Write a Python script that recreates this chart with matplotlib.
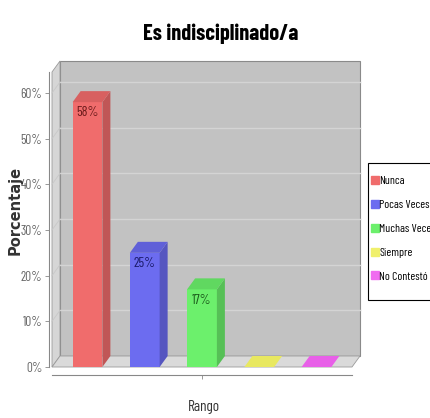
import matplotlib
matplotlib.use('Agg')
import matplotlib.pyplot as plt
from matplotlib.patches import Polygon, Rectangle
from matplotlib.lines import Line2D

# Data
categories = ['Nunca', 'Pocas Veces', 'Muchas Veces', 'Siempre', 'No Contestó']
values = [58, 25, 17, 0, 0]
bar_labels = ['58%', '25%', '17%', '', '']
yticks = [0, 10, 20, 30, 40, 50, 60]

front_colors = ['#f06c6c', '#6c6cf0', '#6cf06c', '#f0f06c', '#f06cf0']
side_colors = ['#c05656', '#5656c0', '#56c056', '#c0c056', '#c056c0']
top_colors = ['#d86060', '#6060d8', '#60d860', '#e8e860', '#e860e8']
label_colors = ['#6a1a1a', '#1a1a6a', '#1a5a1a', '#000000', '#000000']

NARROW = ['Barlow Condensed', 'DejaVu Sans']

fig = plt.figure(figsize=(4.31, 4.18), dpi=100)
W, H = 431, 418
# front face of the plot box: x 52..352, y 72..367 (pixels from top)
ax = fig.add_axes([52 / W, (H - 367) / H, 300 / W, 295 / H])
xmin, xmax = -0.62, len(categories) - 1 + 0.62
ymax = 64.6
ax.set_xlim(xmin, xmax)
ax.set_ylim(0, ymax)
ax.patch.set_visible(False)

# depth of the 3D effect converted to data units
p0 = ax.transData.transform((0, 0))
p1 = ax.transData.transform((1, 1))
dx = 8 / (p1[0] - p0[0])
dy = 11 / (p1[1] - p0[1])

# back wall, left wall, floor
ax.add_patch(Polygon([(xmin + dx, dy), (xmax + dx, dy), (xmax + dx, ymax + dy),
                      (xmin + dx, ymax + dy)], closed=True, fc='#c2c2c2',
                     ec='#8a8a8a', lw=0.8, clip_on=False, zorder=0))
ax.add_patch(Polygon([(xmin, 0), (xmin + dx, dy), (xmin + dx, ymax + dy), (xmin, ymax)],
                     closed=True, fc='#d6d6d6', ec='#9a9a9a', lw=0.6, clip_on=False, zorder=0))
ax.add_patch(Polygon([(xmin, 0), (xmax, 0), (xmax + dx, dy), (xmin + dx, dy)],
                     closed=True, fc='#dadada', ec='#9a9a9a', lw=0.6, clip_on=False, zorder=0))
for t in yticks[1:]:
    ax.plot([xmin + dx, xmax + dx], [t + dy, t + dy], color='#d4d4d4', lw=1.0,
            clip_on=False, zorder=0.5)
    ax.plot([xmin, xmin + dx], [t, t + dy], color='#c8c8c8', lw=0.6,
            clip_on=False, zorder=0.5)

# bars
w = 0.52
for i, v in enumerate(values):
    x0, x1 = i - w / 2, i + w / 2
    ax.bar(i, v, width=w, color=front_colors[i], edgecolor='none', zorder=2)
    ax.add_patch(Polygon([(x1, 0), (x1 + dx, dy), (x1 + dx, v + dy), (x1, v)],
                         closed=True, fc=side_colors[i], ec='none', zorder=2, clip_on=False))
    ax.add_patch(Polygon([(x0, v), (x1, v), (x1 + dx, v + dy), (x0 + dx, v + dy)],
                         closed=True, fc=top_colors[i], ec='none', zorder=2, clip_on=False))
    if bar_labels[i]:
        ax.annotate(bar_labels[i], (i, v), xytext=(0, -3), textcoords='offset points',
                    ha='center', va='top', fontsize=10, color=label_colors[i],
                    family=NARROW, zorder=3)

# axes
for s in ['top', 'right']:
    ax.spines[s].set_visible(False)
ax.spines['left'].set_color('#888888')
ax.spines['left'].set_position(('outward', 2))
ax.spines['bottom'].set_color('#888888')
ax.spines['bottom'].set_position(('outward', 6))
ax.set_yticks(yticks)
ax.set_yticklabels([f'{t}%' for t in yticks], family=NARROW, fontsize=9.5, color='#666666')
ax.tick_params(axis='y', length=3, width=0.6, color='#888888', pad=2)
ax.set_xticks([(xmin + xmax) / 2])
ax.set_xticklabels([''])
ax.tick_params(axis='x', length=3, width=0.6, color='#888888')

fig.text(204 / W, 1 - 407 / H, 'Rango', ha='center', va='center', fontsize=11,
         family=NARROW, color='#333333')
fig.text(15 / W, 1 - 210 / H, 'Porcentaje', ha='center', va='center', rotation=90,
         fontsize=10.5, fontweight='bold', color='#333333')
fig.text(221 / W, 1 - 34 / H, 'Es indisciplinado/a', ha='center', va='center',
         fontsize=16, fontweight='bold', family=NARROW, color='#000000')

# legend (frame drawn separately so it can run past the right edge)
fig.patches.append(Rectangle((368 / W, 1 - 300 / H), 80 / W, 137 / H, transform=fig.transFigure,
                             fc='white', ec='black', lw=0.8, clip_on=False))
handles = [Line2D([], [], marker='s', ls='none', markersize=5.5, color=c) for c in front_colors]
leg = fig.legend(handles, categories, loc='upper left', bbox_to_anchor=(371 / W, 1 - 176 / H),
                 borderaxespad=0, frameon=False, handletextpad=0.1, handlelength=0.6,
                 borderpad=0.0, labelspacing=1.15, prop={'family': NARROW, 'size': 8.5})

fig.savefig('out.png', dpi=100)
